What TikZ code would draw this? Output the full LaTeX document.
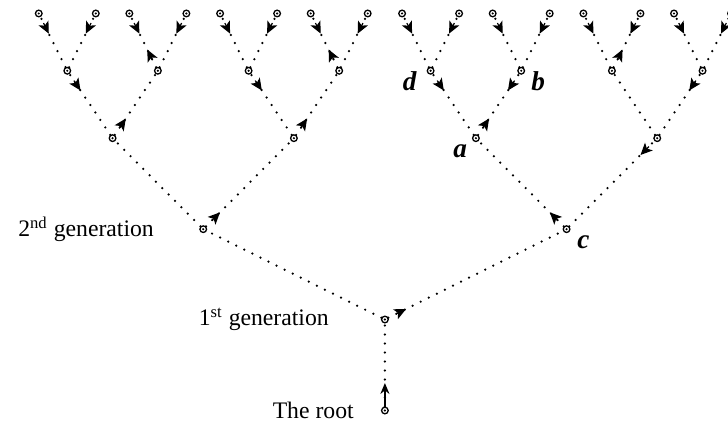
\documentclass[tikz,border=0pt]{standalone}
\usepackage{fontspec}
\setmainfont{Liberation Serif}
\usetikzlibrary{calc,positioning,arrows.meta}

\tikzset{
  vertex/.style={circle,draw,line width=0.55pt,inner sep=0pt,minimum size=2.8pt,
    path picture={\fill (path picture bounding box.center) circle (0.5pt);}},
  treeedge/.style={line width=1.05pt,line cap=round,dash pattern=on 0pt off 3.8pt},
  rotor/.style={line width=0.5pt,-{Stealth[length=5pt,width=4.6pt,inset=1.2pt]}},
  rootrotor/.style={line width=1.1pt,-{Stealth[length=4.6pt,width=3.8pt]}},
  gen/.style={font=\fontsize{10}{12}\selectfont},
  vlabel/.style={inner sep=1pt,font=\fontsize{11.5}{13}\selectfont\bfseries\itshape}
}

\begin{document}
\begin{tikzpicture}[x=1cm,y=1cm]
\path[use as bounding box] (0,0) rectangle (10.80,6.27);

% root and 1st generation
\node[vertex] (r) at (5.71,0.18) {};
\node[vertex] (g) at (5.71,1.53) {};

% 2nd generation
\node[vertex] (g0) at (3.015,2.87) {};
\node[vertex] (g1) at (8.405,2.87) {};

% 3rd generation
\foreach \n/\x in {00/1.670,01/4.360,10/7.060,11/9.750}
  \node[vertex] (g\n) at (\x,4.22) {};

% 4th generation
\foreach \n/\x in {000/0.998,001/2.342,010/3.688,011/5.032,100/6.388,101/7.732,110/9.078,111/10.422}
  \node[vertex] (g\n) at (\x,5.22) {};

% leaves
\foreach \n/\x in {0000/0.575,0001/1.421,0010/1.919,0011/2.765,0100/3.265,0101/4.111,0110/4.609,0111/5.455,
                   1000/5.965,1001/6.811,1010/7.309,1011/8.155,1100/8.655,1101/9.501,1110/9.999,1111/10.845}
  \node[vertex] (g\n) at (\x,6.07) {};

% dotted edges
\draw[treeedge] (r) -- (g);
\draw[treeedge] (g) -- (g0) (g) -- (g1);
\foreach \p in {0,1,00,01,10,11,000,001,010,011,100,101,110,111}
  \draw[treeedge] (g\p) -- (g\p0) (g\p) -- (g\p1);

% rotors
\draw[rootrotor] (r) -- ($(r)!11.6pt!(g)$);
\draw[rotor] ($(g)!5pt!(g1)$) -- ($(g)!10pt!(g1)$);
\foreach \v/\w in {0/01,1/10,00/001,01/011,10/101,11/1,000/00,001/0010,010/01,011/0110,100/10,101/10,110/1101,111/11}
  \draw[rotor] ($(g\v)!5pt!(g\w)$) -- ($(g\v)!10pt!(g\w)$);
\foreach \p in {000,001,010,011,100,101,110,111}{
  \draw[rotor] ($(g\p0)!4.5pt!(g\p)$) -- ($(g\p0)!9.5pt!(g\p)$);
  \draw[rotor] ($(g\p1)!4.5pt!(g\p)$) -- ($(g\p1)!9.5pt!(g\p)$);
}

% labels
\node[gen,left=0.28cm of r] (rootlbl) {The root};
\node[gen,left=0.65cm of g] (genone) {1\textsuperscript{st} generation};
\node[gen,left=0.55cm of g0] (gentwo) {2\textsuperscript{nd} generation};
\node[vlabel,left=0.11cm of g100,yshift=-0.16cm] (dlbl) {d};
\node[vlabel,right=0.05cm of g101,yshift=-0.15cm] (blbl) {b};
\node[vlabel,left=0.03cm of g10,yshift=-0.19cm] (albl) {a};
\node[vlabel,right=0.06cm of g1,yshift=-0.2cm] (clbl) {c};
\end{tikzpicture}
\end{document}
